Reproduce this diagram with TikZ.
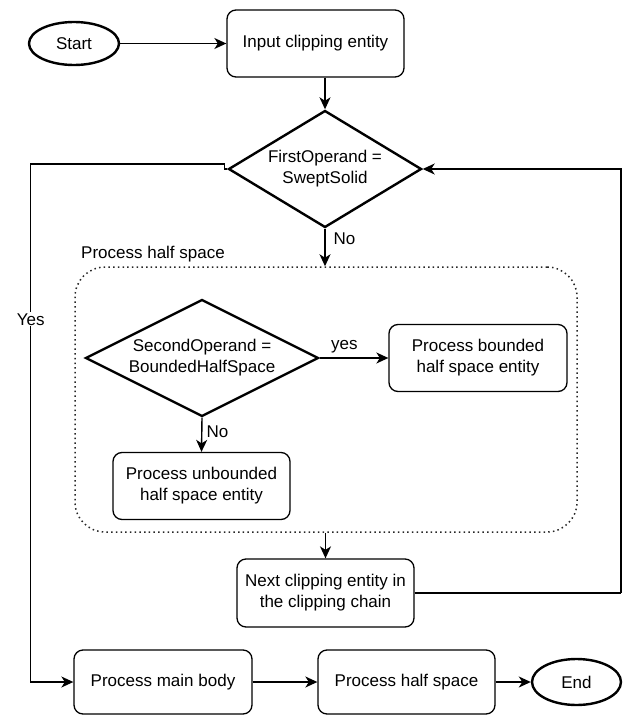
\documentclass[tikz,border=0pt]{standalone}
\usepackage{fontspec}
\setmainfont{Liberation Sans}
\usetikzlibrary{shapes.geometric,arrows.meta}

\tikzset{
  every node/.style={font=\fontsize{17}{21}\selectfont, inner sep=0pt},
  procbox/.style={draw, line width=1.3pt, rounded corners=9pt, align=center},
  terminal/.style={draw, ellipse, line width=2.4pt},
  decision/.style={draw, diamond, line width=2.4pt},
  dtext/.style={align=center},
  flow/.style={line width=1.4pt, -{Stealth[length=12pt,width=11pt,inset=3.5pt]}},
  plainline/.style={line width=1.4pt},
  group/.style={draw=black!85, line width=1.5pt, dash pattern=on 1.5pt off 3.2pt, rounded corners=30pt},
  lbl/.style={fill=white, inner sep=1pt}
}

\begin{document}
\begin{tikzpicture}[x=1pt, y=-1pt]
\useasboundingbox (0,0) rectangle (622,715);

% main column
\node[terminal, minimum width=90pt, minimum height=43pt] (start) at (74,43.5) {Start};
\node[procbox, minimum width=177pt, minimum height=67pt] (input) at (315.5,43.5) {Input clipping entity};
\node[decision, minimum width=193pt, minimum height=117pt] (d1) at (325,169) {};
\node[dtext] (d1text) at (d1.center) {FirstOperand =\\SweptSolid};

% half space group
\node[group, minimum width=502pt, minimum height=265pt] (hs) at (326,399.5) {};
\node[anchor=west] (hslabel) at (81,254) {Process half space};
\node[decision, minimum width=233pt, minimum height=117pt] (d2) at (202,358) {};
\node[dtext] (d2text) at (d2.center) {SecondOperand =\\BoundedHalfSpace};
\node[procbox, minimum width=178pt, minimum height=67pt] (bounded) at (478,358) {Process bounded\\half space entity};
\node[procbox, minimum width=177pt, minimum height=67pt] (unbounded) at (201.5,486) {Process unbounded\\half space entity};

% chain and final row
\node[procbox, minimum width=177pt, minimum height=68pt] (next) at (325.5,593) {Next clipping entity in\\the clipping chain};
\node[procbox, minimum width=178pt, minimum height=64pt] (mainbody) at (163,682) {Process main body};
\node[procbox, minimum width=177pt, minimum height=64pt] (halfspace) at (406.5,682) {Process half space};
\node[terminal, minimum width=89pt, minimum height=46pt] (end) at (576.5,682) {End};

% corner points of the routed lines
\coordinate (loopR) at (621,593);
\coordinate (yesL) at (30.7,164);

% connectors
\draw[flow] (start) -- (input);
\draw[flow] (input.south -| d1.north) -- (d1.north);
\draw[flow] (d1.south) -- node[pos=0.27, right=8pt] (nolbl1) {No} (d1.south |- hs.north);
\draw[flow] (d2.east) -- node[pos=0.36, above=4pt] (yeslbl) {yes} (bounded.west);
\draw[flow] (d2.south) -- node[pos=0.4, right=4pt] (nolbl2) {No} (unbounded.north);
\draw[flow] (hs.south -| next.north) -- (next.north);
\draw[plainline] (next.east) -- (loopR);
\draw[flow] (loopR) -- (loopR |- d1.east) -- (d1.east);
\draw[flow] (d1.west) -- ++(-3,0) -- ++(0,-5) -- (yesL)
  -- node[pos=0.30, lbl] (yeslbl2) {Yes} (yesL |- mainbody.west) -- (mainbody.west);
\draw[flow] (mainbody) -- (halfspace);
\draw[flow] (halfspace) -- (end);
\end{tikzpicture}
\end{document}
